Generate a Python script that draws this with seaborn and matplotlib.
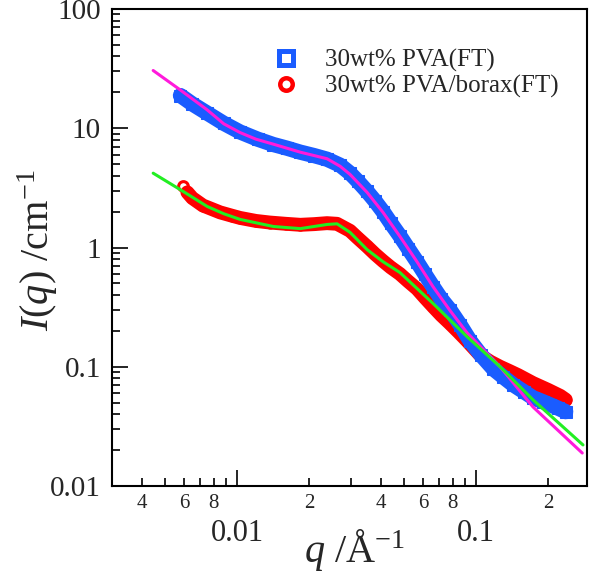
import matplotlib
matplotlib.use("Agg")
import matplotlib.pyplot as plt
import seaborn as sns
from matplotlib.lines import Line2D
from matplotlib.ticker import FixedLocator, FixedFormatter

# --- donnees ---
# 30wt% PVA(FT) : points experimentaux (bande bleue)
q_pva = [0.0058, 0.0065, 0.0075, 0.0088, 0.0103, 0.0122, 0.0142, 0.0162, 0.0184,
         0.021, 0.0238, 0.027, 0.0297, 0.032, 0.035, 0.0378, 0.0408, 0.044, 0.048,
         0.052, 0.0566, 0.061, 0.066, 0.0715, 0.0778, 0.0857, 0.0944, 0.105, 0.118,
         0.13, 0.143, 0.158, 0.173, 0.19, 0.204, 0.22, 0.237]
i_pva = [18.8, 16.0, 13.4, 11.0, 9.3, 8.1, 7.3, 6.8, 6.3,
         5.9, 5.5, 4.9, 4.2, 3.6, 2.95, 2.45, 2.0, 1.6, 1.25,
         0.98, 0.76, 0.6, 0.47, 0.37, 0.30, 0.225, 0.165, 0.125, 0.096,
         0.082, 0.0706, 0.062, 0.055, 0.051, 0.048, 0.045, 0.042]

# 30wt% PVA/borax(FT) : points experimentaux (bande rouge)
q_bor = [0.0062, 0.0065, 0.0072, 0.0085, 0.0095, 0.0103, 0.012, 0.0137, 0.016, 0.0184,
         0.021, 0.0238, 0.0262, 0.0297, 0.032, 0.035, 0.0378, 0.0408, 0.044, 0.048,
         0.052, 0.0566, 0.061, 0.066, 0.0715, 0.0778, 0.0845, 0.0916, 0.104, 0.115,
         0.126, 0.138, 0.15, 0.173, 0.2, 0.225, 0.237]
i_bor = [2.9, 2.6, 2.25, 1.97, 1.85, 1.77, 1.67, 1.62, 1.58, 1.55,
         1.57, 1.6, 1.58, 1.38, 1.2, 1.02, 0.88, 0.77, 0.68, 0.6,
         0.52, 0.45, 0.38, 0.32, 0.27, 0.23, 0.195, 0.165, 0.125, 0.11,
         0.10, 0.092, 0.085, 0.073, 0.064, 0.057, 0.053]
q_bor_first = [0.00594]
i_bor_first = [3.3]

# ajustements (courbes continues)
q_fit_pva = [0.00446, 0.00578, 0.00749, 0.0088, 0.0103, 0.012, 0.0142, 0.0184, 0.0238,
             0.027, 0.0297, 0.035, 0.0408, 0.048, 0.0566, 0.066, 0.0778, 0.0916, 0.126,
             0.173, 0.278]
i_fit_pva = [30.5, 21.0, 14.3, 10.9, 9.2, 8.1, 7.35, 6.3, 5.55,
             4.8, 4.1, 2.9, 1.97, 1.24, 0.76, 0.47, 0.296, 0.193, 0.10,
             0.046, 0.0189]

q_fit_bor = [0.00446, 0.00594, 0.0075, 0.0088, 0.0103, 0.0142, 0.0184, 0.0238, 0.0262,
             0.0297, 0.035, 0.0408, 0.048, 0.066, 0.0916, 0.126, 0.173, 0.28]
i_fit_bor = [4.2, 2.96, 2.21, 1.92, 1.72, 1.50, 1.44, 1.56, 1.58,
             1.34, 0.96, 0.76, 0.617, 0.34, 0.179, 0.10, 0.0528, 0.0221]

labels = ['30wt% PVA(FT)', '30wt% PVA/borax(FT)']
c_blue, c_red = '#1a5cff', '#ff0000'
c_mag, c_green = '#ff1adb', '#22ee22'

# --- style ---
sns.set_style('ticks')
plt.rcParams['font.family'] = ['Liberation Serif', 'DejaVu Serif']
plt.rcParams['mathtext.fontset'] = 'custom'
plt.rcParams['mathtext.rm'] = 'Liberation Serif'
plt.rcParams['mathtext.it'] = 'Liberation Serif:italic'

fig = plt.figure(figsize=(5.91, 5.81), dpi=100)
ax = fig.add_axes([112 / 591, 1 - 486 / 581, 475 / 591, 477 / 581])
ax.set_xscale('log')
ax.set_yscale('log')

# donnees : bande epaisse + marqueurs
sns.lineplot(x=q_bor, y=i_bor, ax=ax, color=c_red, linewidth=10, marker='o',
             markersize=8, markeredgecolor=c_red, sort=False, estimator=None, zorder=2)
sns.lineplot(x=q_bor_first, y=i_bor_first, ax=ax, color=c_red, marker='o', markersize=7,
             markerfacecolor='none', markeredgecolor=c_red, markeredgewidth=2.2,
             linestyle='none', estimator=None, zorder=2)
sns.lineplot(x=q_pva, y=i_pva, ax=ax, color=c_blue, linewidth=11, marker='s',
             markersize=8, markeredgecolor=c_blue, sort=False, estimator=None, zorder=3)

# ajustements
sns.lineplot(x=q_fit_pva, y=i_fit_pva, ax=ax, color=c_mag, linewidth=2.2,
             sort=False, estimator=None, zorder=4)
sns.lineplot(x=q_fit_bor, y=i_fit_bor, ax=ax, color=c_green, linewidth=2.2,
             sort=False, estimator=None, zorder=5)

ax.set_xlim(0.003, 0.291)
ax.set_ylim(0.01, 100)

# axe x : graduations majeures et mineures etiquetees
ax.xaxis.set_major_locator(FixedLocator([0.01, 0.1]))
ax.xaxis.set_major_formatter(FixedFormatter(['0.01', '0.1']))
x_minor = [m * 0.001 for m in range(3, 10)] + [m * 0.01 for m in range(2, 10)] + [0.2]
x_minor_lab = ['', '4', '', '6', '', '8', '', '2', '', '4', '', '6', '', '8', '', '2']
ax.xaxis.set_minor_locator(FixedLocator(x_minor))
ax.xaxis.set_minor_formatter(FixedFormatter(x_minor_lab))

ax.yaxis.set_major_locator(FixedLocator([0.01, 0.1, 1, 10, 100]))
ax.yaxis.set_major_formatter(FixedFormatter(['0.01', '0.1', '1', '10', '100']))
y_minor = [m * 10.0 ** e for e in range(-2, 2) for m in range(2, 10)]
ax.yaxis.set_minor_locator(FixedLocator(y_minor))
ax.yaxis.set_minor_formatter(FixedFormatter([''] * len(y_minor)))

ax.tick_params(which='both', direction='in', top=False, right=False, color='black')
ax.tick_params(which='major', length=11.5, width=1.2)
ax.tick_params(which='minor', length=5.8, width=1.2)
ax.tick_params(axis='y', which='major', labelsize=21, pad=8)
ax.tick_params(axis='x', which='major', labelsize=22, pad=24)
ax.tick_params(axis='x', which='minor', labelsize=15, pad=6)
for s in ax.spines.values():
    s.set_linewidth(1.5)
    s.set_color('black')

ax.set_xlabel(r'$q$ /Å$^{-1}$', fontsize=29)
ax.set_ylabel(r'$I$($q$) /cm$^{-1}$', fontsize=29)
ax.xaxis.set_label_coords(0.51, -0.085)
ax.yaxis.set_label_coords(-0.11, 0.495)

handles = [
    Line2D([], [], linestyle='none', marker='s', markersize=10, markerfacecolor='none',
           markeredgecolor=c_blue, markeredgewidth=3.6),
    Line2D([], [], linestyle='none', marker='o', markersize=9, markerfacecolor='none',
           markeredgecolor=c_red, markeredgewidth=3.2),
]
ax.legend(handles, labels, loc='upper left', bbox_to_anchor=(0.341, 0.916), frameon=False,
          fontsize=18, handlelength=1.0, handletextpad=1.05, labelspacing=0.1,
          borderpad=0, borderaxespad=0)

fig.savefig('out.png', dpi=100)
plt.close(fig)
